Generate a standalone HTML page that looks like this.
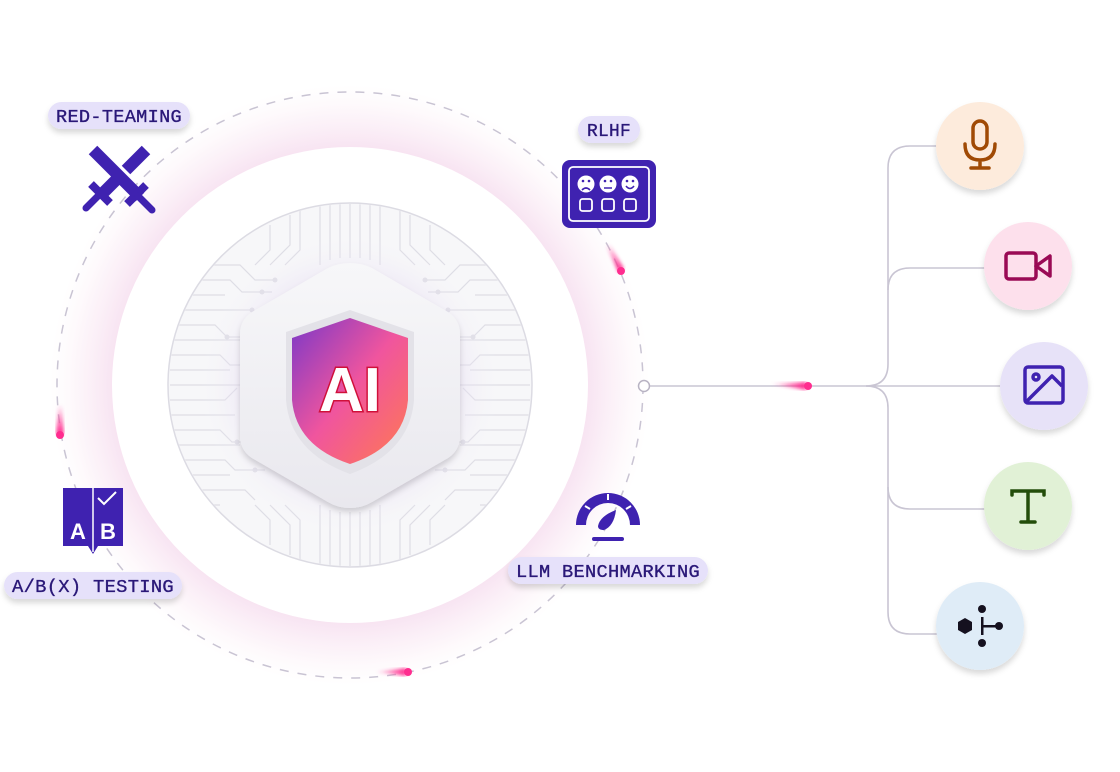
<!DOCTYPE html>
<html><head><meta charset="utf-8"><style>
html,body{margin:0;padding:0;background:#fff;width:1120px;height:772px;overflow:hidden}
svg{display:block}
.lbl{font-family:"Liberation Mono",monospace;font-size:18px;fill:#2a1878;stroke:#2a1878;stroke-width:0.35;letter-spacing:0.3px}
</style></head><body>
<svg width="1120" height="772" viewBox="0 0 1120 772" xmlns="http://www.w3.org/2000/svg">
<defs>
<radialGradient id="glow" cx="350" cy="385" r="300" gradientUnits="userSpaceOnUse">
<stop offset="0.78" stop-color="#f7e2f1"/>
<stop offset="0.86" stop-color="#fbeff7"/>
<stop offset="0.94" stop-color="#fefafc"/>
<stop offset="1" stop-color="#ffffff"/>
</radialGradient>
<linearGradient id="shield" x1="0" y1="0" x2="1" y2="1">
<stop offset="0" stop-color="#7a38c8"/>
<stop offset="0.5" stop-color="#f0559e"/>
<stop offset="1" stop-color="#ff7a50"/>
</linearGradient>
<linearGradient id="hex" x1="0" y1="0" x2="0" y2="1">
<stop offset="0" stop-color="#f7f7f9"/><stop offset="1" stop-color="#e9e8ee"/>
</linearGradient>
<radialGradient id="hglow" cx="350" cy="385" r="150" gradientUnits="userSpaceOnUse">
<stop offset="0.5" stop-color="#d8c6ee" stop-opacity="0.8"/>
<stop offset="1" stop-color="#f6f6f8" stop-opacity="0"/>
</radialGradient>
<clipPath id="cc"><circle cx="350" cy="385" r="181"/></clipPath>
<filter id="sh" x="-30%" y="-30%" width="160%" height="170%"><feDropShadow dx="0" dy="4" stdDeviation="3" flood-color="#000" flood-opacity="0.15"/></filter>
<filter id="bl"><feGaussianBlur stdDeviation="1.5"/></filter>
<linearGradient id="cometH" x1="0" x2="1"><stop offset="0" stop-color="#ff2d8f" stop-opacity="0"/><stop offset="1" stop-color="#ff2d8f"/></linearGradient>
<linearGradient id="cometV" x1="0" y1="0" x2="0" y2="1"><stop offset="0" stop-color="#ff2d8f" stop-opacity="0"/><stop offset="1" stop-color="#ff2d8f"/></linearGradient>
</defs>

<circle cx="350" cy="385" r="300" fill="url(#glow)"/>
<circle cx="350" cy="385" r="238" fill="#fff"/>
<circle cx="350" cy="385" r="293" fill="none" stroke="#c9c4d3" stroke-width="1.5" stroke-dasharray="9 9"/>

<circle cx="350" cy="385" r="182" fill="#f7f7f9" stroke="#dcdbe3" stroke-width="1.5"/>
<g clip-path="url(#cc)" stroke="#dedde5" stroke-width="1.2" fill="none">
<path d="M170 265h70l15 15h20M170 280h60l12 12h30M170 295h55M170 310h80l10 10M170 325h45l12 12h30M170 340h70M170 355h50l10 10h25M170 370h60M170 385h70M170 400h55l12-12M170 415h65M170 430h50l12 12h25M170 445h70M170 460h55l10 10h30M170 475h60M170 490h75l10 10M170 505h50"/>
<path d="M530 265h-70l-15 15h-20M530 280h-60l-12 12h-30M530 295h-55M530 310h-80l-10 10M530 325h-45l-12 12h-30M530 340h-70M530 355h-50l-10 10h-25M530 370h-60M530 385h-70M530 400h-55l-12-12M530 415h-65M530 430h-50l-12 12h-25M530 445h-70M530 460h-55l-10 10h-30M530 475h-60M530 490h-75l-10 10M530 505h-50"/>
<path d="M320 200v65M330 200v60M340 200v58M350 200v58M360 200v58M370 200v60M380 200v65M300 210v40l-15 15M290 215v30l-20 20M400 210v40l15 15M410 215v30l20 20M270 225v25l-15 15M430 225v25l15 15"/>
<path d="M320 570v-65M330 570v-60M340 570v-58M350 570v-58M360 570v-58M370 570v-60M380 570v-65M300 560v-40l-15-15M290 555v-30l-20-20M400 560v-40l15-15M410 555v-30l20-20M270 545v-25l-15-15M430 545v-25l15-15"/>
</g>
<g clip-path="url(#cc)" fill="#dedde5">
<circle cx="275" cy="280" r="2.5"/><circle cx="262" cy="292" r="2.5"/><circle cx="252" cy="310" r="2.5"/><circle cx="227" cy="337" r="2.5"/><circle cx="245" cy="365" r="2.5"/><circle cx="237" cy="442" r="2.5"/><circle cx="255" cy="470" r="2.5"/>
<circle cx="425" cy="280" r="2.5"/><circle cx="438" cy="292" r="2.5"/><circle cx="448" cy="310" r="2.5"/><circle cx="473" cy="337" r="2.5"/><circle cx="455" cy="365" r="2.5"/><circle cx="463" cy="442" r="2.5"/><circle cx="445" cy="470" r="2.5"/>
</g>
<circle cx="350" cy="385" r="150" fill="url(#hglow)"/>

<path d="M350 263 Q362 263 372 268 L448 312 Q460 320 460 334 L460 436 Q460 450 448 458 L372 502 Q362 508 350 508 Q338 508 328 502 L252 458 Q240 450 240 436 L240 334 Q240 320 252 312 L328 268 Q338 263 350 263Z" fill="url(#hex)" filter="url(#sh)"/>
<path d="M350 310 L414 332 L414 400 Q410 452 350 474 Q290 452 286 400 L286 332Z" fill="#e3e2e8"/>
<path d="M350 318 L408 338 L408 400 Q404 446 350 464 Q296 446 292 400 L292 338Z" fill="url(#shield)"/>
<text x="350" y="411" text-anchor="middle" font-family="Liberation Sans,sans-serif" font-weight="bold" font-size="62" fill="#fff" stroke="#d0103a" stroke-width="3" paint-order="stroke">AI</text>

<path d="M58 405 L62 405 L64 434 L56 434Z" fill="url(#cometV)" filter="url(#bl)"/>
<circle cx="60" cy="435" r="4" fill="#ff2d8f"/>
<path d="M606 246 L610 244 L624 268 L618 272Z" fill="url(#cometV)" filter="url(#bl)"/>
<circle cx="621" cy="271" r="4" fill="#ff2d8f"/>
<path d="M375 672 L406 668 L406 676Z" fill="url(#cometH)" filter="url(#bl)"/>
<circle cx="408" cy="672" r="4" fill="#ff2d8f"/>

<circle cx="644" cy="386" r="5.5" fill="#fff" stroke="#b8b3c3" stroke-width="1.5"/>
<g stroke="#c9c5d3" stroke-width="1.6" fill="none">
<path d="M650 386 H1000"/>
<path d="M866 386 Q888 386 888 364 V168 Q888 146 910 146 H940"/>
<path d="M888 290 Q888 268 910 268 H990"/>
<path d="M866 386 Q888 386 888 408 V612 Q888 634 910 634 H940"/>
<path d="M888 487 Q888 509 910 509 H990"/>
</g>
<path d="M770 384 L806 382 L806 390Z" fill="url(#cometH)" filter="url(#bl)"/>
<circle cx="808" cy="386" r="4" fill="#ff2d8f"/>

<g filter="url(#sh)">
<circle cx="980" cy="146" r="44" fill="#fdebdc"/>
<circle cx="1028" cy="266" r="44" fill="#fde0ec"/>
<circle cx="1044" cy="386" r="44" fill="#e7e2f8"/>
<circle cx="1028" cy="506" r="44" fill="#e1f1d6"/>
<circle cx="980" cy="626" r="44" fill="#dfecf7"/>
</g>
<g stroke="#a04a05" stroke-width="3.5" fill="none" stroke-linecap="round">
<rect x="973" y="121" width="14" height="28" rx="7"/>
<path d="M965 144 Q965 160 980 160 Q995 160 995 144 M980 160 V168 M971 168 H989"/>
</g>
<g stroke="#9a0a55" stroke-width="3.5" fill="none" stroke-linejoin="round">
<rect x="1006" y="253" width="30" height="26" rx="3"/>
<path d="M1036 266 L1050 256 V276Z"/>
</g>
<g stroke="#3f22b0" stroke-width="3.5" fill="none" stroke-linejoin="round">
<rect x="1025" y="367" width="38" height="36" rx="3"/>
<circle cx="1036" cy="377" r="3"/>
<path d="M1027 401 L1052 376 L1062 386"/>
</g>
<g stroke="#234d0a" stroke-width="3.5" fill="none" stroke-linecap="round">
<path d="M1012 495 V491 H1044 V495 M1028 491 V522 M1021 522 H1035"/>
</g>
<g fill="#15111f">
<polygon points="965,618 972,622 972,630 965,634 958,630 958,622"/>
<circle cx="982" cy="609" r="4"/><circle cx="982" cy="643" r="4"/><circle cx="999" cy="626" r="4"/>
<rect x="981" y="617" width="2.5" height="18"/><rect x="982" y="625" width="14" height="2.5"/>
</g>

<!-- swords -->
<g stroke="#3f22b0" fill="none" stroke-linecap="butt">
<path d="M93 150 L140 197" stroke-width="12"/>
<path d="M127 204 L146 185" stroke-width="8"/>
<path d="M138 196 L152 210" stroke-width="7" stroke-linecap="round"/>
<path d="M146 150 L126 170" stroke-width="12"/>
<path d="M116 180 L103 193" stroke-width="12"/>
<path d="M91 184 L110 203" stroke-width="8"/>
<path d="M100 194 L86 208" stroke-width="7" stroke-linecap="round"/>
</g>
<rect x="562" y="160" width="94" height="68" rx="8" fill="#3f22b0"/>
<rect x="569" y="167" width="80" height="54" rx="4" fill="none" stroke="#fff" stroke-width="1.8"/>
<g fill="#fff"><circle cx="586" cy="184" r="8.5"/><circle cx="608" cy="184" r="8.5"/><circle cx="630" cy="184" r="8.5"/></g>
<g stroke="#3f22b0" stroke-width="1.6" fill="none"><path d="M582 190 Q586 186 590 190 M604 188 H612 M626 186 Q630 191 634 186"/></g>
<g fill="#3f22b0"><circle cx="583" cy="181" r="1.3"/><circle cx="589" cy="181" r="1.3"/><circle cx="605" cy="181" r="1.3"/><circle cx="611" cy="181" r="1.3"/><circle cx="627" cy="181" r="1.3"/><circle cx="633" cy="181" r="1.3"/></g>
<g stroke="#fff" stroke-width="1.8" fill="none"><rect x="580" y="199" width="12" height="12" rx="2.5"/><rect x="602" y="199" width="12" height="12" rx="2.5"/><rect x="624" y="199" width="12" height="12" rx="2.5"/></g>
<path d="M63 488 H123 V546 H98 L93 554 L88 546 H63Z" fill="#3f22b0"/>
<path d="M93 488 V552" stroke="#fff" stroke-width="1.5"/>
<path d="M98 498 L104 504 L116 492" stroke="#fff" stroke-width="2" fill="none"/>
<text x="78" y="539" text-anchor="middle" font-family="Liberation Sans,sans-serif" font-weight="bold" font-size="22" fill="#fff">A</text>
<text x="108" y="539" text-anchor="middle" font-family="Liberation Sans,sans-serif" font-weight="bold" font-size="22" fill="#fff">B</text>
<path d="M576 525 A32 32 0 0 1 640 525 H630 A22 22 0 0 0 586 525Z" fill="#3f22b0"/>
<g stroke="#fff" stroke-width="2"><path d="M608 494 V500 M585 506 L590 509 M631 506 L626 509"/></g>
<path d="M598 526 Q600 516 616 510 Q614 526 604 530 Q598 530 598 526Z" fill="#3f22b0"/>
<rect x="592" y="537" width="32" height="4" rx="2" fill="#3f22b0"/>

<g filter="url(#sh)" fill="#e6e1fa">
<rect x="48" y="102" width="142" height="27" rx="13.5"/>
<rect x="578" y="116" width="62" height="27" rx="13.5"/>
<rect x="4" y="572" width="178" height="27" rx="13.5"/>
<rect x="508" y="557" width="200" height="27" rx="13.5"/>
</g>
<text class="lbl" x="119" y="122" text-anchor="middle" textLength="126" lengthAdjust="spacingAndGlyphs">RED-TEAMING</text>
<text class="lbl" x="609" y="136" text-anchor="middle" textLength="44" lengthAdjust="spacingAndGlyphs">RLHF</text>
<text class="lbl" x="93" y="592" text-anchor="middle" textLength="162" lengthAdjust="spacingAndGlyphs">A/B(X) TESTING</text>
<text class="lbl" x="608" y="577" text-anchor="middle" textLength="184" lengthAdjust="spacingAndGlyphs">LLM BENCHMARKING</text>
</svg>
</body></html>
